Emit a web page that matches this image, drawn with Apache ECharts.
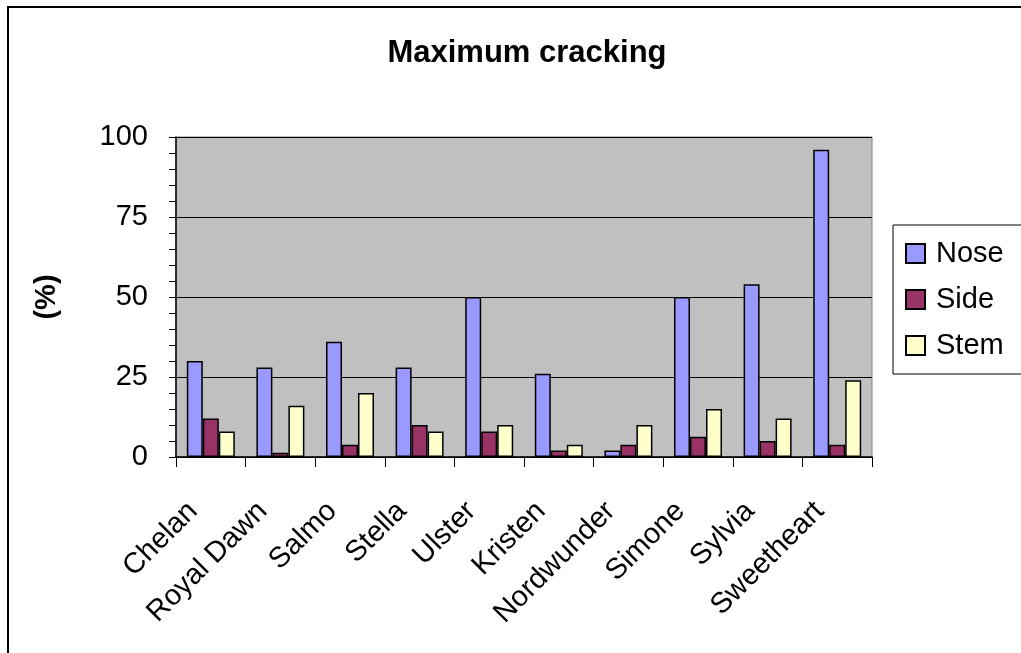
<!DOCTYPE html>
<html>
<head>
<meta charset="utf-8">
<script src="https://cdn.jsdelivr.net/npm/echarts@6/dist/echarts.min.js"></script>
<style>
html,body{margin:0;padding:0;background:#fff;overflow:hidden;}
#frame{position:absolute;left:7px;top:6px;width:1030px;height:660px;border-left:2px solid #000;border-top:2px solid #000;}
#main{position:absolute;left:0;top:0;width:1040px;height:653px;}
</style>
</head>
<body>
<div id="frame"></div>
<div id="main"></div>
<script>
var categories=['Chelan','Royal Dawn','Salmo','Stella','Ulster','Kristen','Nordwunder','Simone','Sylvia','Sweetheart'];
var noseData=[30,28,36,28,50,26,2,50,54,96];
var sideData=[12,1.3,3.8,10,8,2,3.8,6.3,5,3.8];
var stemData=[8,16,20,8,10,3.8,10,15,12,24];
var yTicks=[0,25,50,75,100];

var fontName='"Liberation Sans", Arial, sans-serif';
var myChart=echarts.init(document.getElementById('main'));

function barSeries(name,color,data){
	return {
		name:name,
		type:'bar',
		barWidth:16,
		barGap:'0%',
		itemStyle:{
			color:color,
			borderColor:'#000',
			borderWidth:1.5
		},
		data:data
	};
}

var option={
	animation:false,
	title:{
		text:'Maximum cracking',
		left:522,
		top:33,
		textAlign:'center',
		textStyle:{
			fontFamily:fontName,
			fontWeight:'bold',
			fontSize:31,
			color:'#000'
		}
	},
	legend:{
		orient:'vertical',
		left:893,
		top:225,
		icon:'rect',
		itemWidth:19,
		itemHeight:19,
		itemGap:17,
		padding:[14,40,14,12],
		borderColor:'#000',
		borderWidth:1,
		textStyle:{
			fontFamily:fontName,
			fontSize:29,
			color:'#000',
			padding:[0,0,0,6]
		},
		data:['Nose','Side','Stem']
	},
	grid:{
		left:176,
		right:168,
		top:137,
		bottom:196,
		show:true,
		backgroundColor:'#c0c0c0',
		borderColor:'#808080',
		borderWidth:1
	},
	xAxis:{
		type:'category',
		data:categories,
		axisLine:{lineStyle:{color:'#000',width:1.5}},
		axisTick:{show:true,length:10,lineStyle:{color:'#000'}},
		axisLabel:{
			rotate:45,
			interval:0,
			margin:32,
			padding:[0,25,0,0],
			fontFamily:fontName,
			fontSize:29,
			color:'#000'
		}
	},
	yAxis:{
		type:'value',
		min:yTicks[0],
		max:yTicks[yTicks.length-1],
		interval:25,
		name:'(%)',
		nameLocation:'middle',
		nameRotate:90,
		nameGap:115,
		nameTextStyle:{
			fontFamily:fontName,
			fontWeight:'bold',
			fontSize:29,
			color:'#000'
		},
		axisLine:{show:true,lineStyle:{color:'#000',width:1.5}},
		axisTick:{show:true,length:7,lineStyle:{color:'#000'}},
		minorTick:{show:true,splitNumber:5,length:7,lineStyle:{color:'#000'}},
		splitLine:{show:true,lineStyle:{color:'#000',width:1}},
		axisLabel:{
			margin:28,
			fontFamily:fontName,
			fontSize:29,
			color:'#000'
		}
	},
	series:[
		barSeries('Nose','#9999ff',noseData),
		barSeries('Side','#993366',sideData),
		barSeries('Stem','#ffffcc',stemData)
	]
};
myChart.setOption(option);
</script>
</body>
</html>
